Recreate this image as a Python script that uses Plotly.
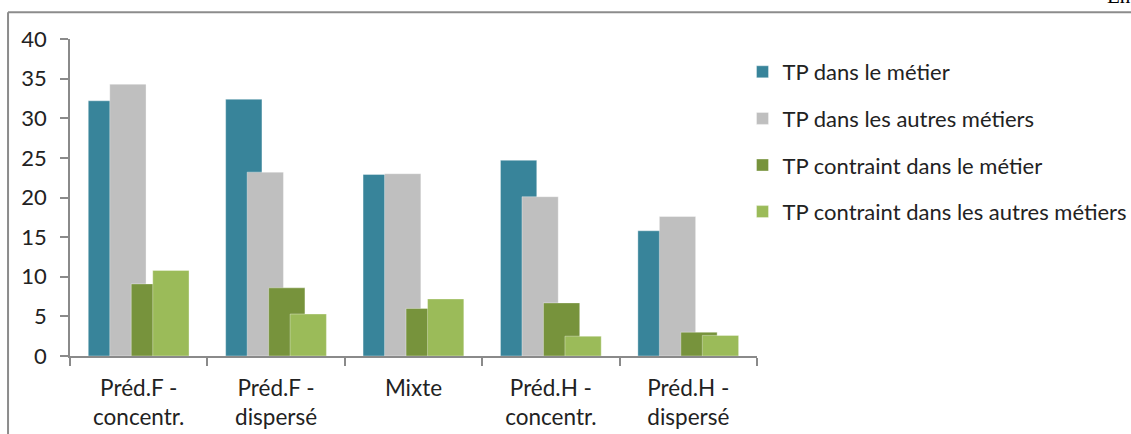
import plotly.graph_objects as go

# Categories and series (part-time rates, %)
categories = ["Préd.F -<br>concentr.", "Préd.F -<br>dispersé", "Mixte",
              "Préd.H -<br>concentr.", "Préd.H -<br>dispersé"]
series_names = ["TP dans le métier", "TP dans les autres métiers",
                "TP contraint dans le métier", "TP contraint dans les autres métiers"]
tp_metier = [32.2, 32.4, 22.9, 24.7, 15.8]
tp_autres = [34.3, 23.2, 23.0, 20.1, 17.6]
tpc_metier = [9.1, 8.6, 6.0, 6.7, 3.0]
tpc_autres = [10.8, 5.3, 7.2, 2.5, 2.6]
series_values = [tp_metier, tp_autres, tpc_metier, tpc_autres]
colors = ["#38849A", "#BFBFBF", "#77933C", "#9BBB59"]
y_ticks = [0, 5, 10, 15, 20, 25, 30, 35, 40]

FONT = "Lato, 'Open Sans', sans-serif"
AXIS_GREY = "#8a8a8a"
TEXT = "#222222"

# Overlapping clustered bars: each series shifted by a fraction of the bar width
bar_w = 0.264
step = 0.1564
first_off = -0.367

fig = go.Figure()
for i, (name, vals, col) in enumerate(zip(series_names, series_values, colors)):
    fig.add_trace(go.Bar(
        x=categories, y=vals, name=name,
        width=bar_w, offset=first_off + i * step,
        marker=dict(color=col, line=dict(color="rgba(255,255,255,0.35)", width=1)),
        legendgroup=f"g{i}",
    ))

# Outer frame (left and top edges of the chart box)
fig.add_shape(type="line", xref="paper", yref="paper",
              x0=-0.0902, x1=-0.0902, y0=1.0846, y1=-0.4,
              line=dict(color="#8c8c8c", width=2))
fig.add_shape(type="line", xref="paper", yref="paper",
              x0=-0.0902, x1=1.6, y0=1.0846, y1=1.0846,
              line=dict(color="#8c8c8c", width=2))

# Page text running above the frame
fig.add_annotation(text="En", xref="paper", yref="paper",
                   x=(1106 - 70) / 687.5, y=(356 - 10) / 316.7,
                   xanchor="left", yanchor="bottom", showarrow=False,
                   font=dict(family="Liberation Serif, serif", size=21, color="#000"))

fig.update_layout(
    width=1131, height=434,
    margin=dict(l=70, r=373.5, t=39.3, b=78.0, autoexpand=False),
    barmode="overlay",
    paper_bgcolor="white", plot_bgcolor="white",
    font=dict(family=FONT, color=TEXT),
    legend=dict(
        x=(743 - 70) / 687.5, xanchor="left",
        y=1.0 - 12 / 316.7, yanchor="top",
        font=dict(family=FONT, size=22, color=TEXT),
        tracegroupgap=15,
        bgcolor="rgba(0,0,0,0)",
    ),
    showlegend=True,
)

fig.update_xaxes(
    type="category", range=[-0.5, 4.5],
    showline=True, linecolor=AXIS_GREY, linewidth=1.5,
    ticks="outside", tickson="boundaries", ticklen=8, tickcolor=AXIS_GREY, tickwidth=1.5,
    ticklabelstandoff=11,
    showgrid=False, tickfont=dict(family=FONT, size=22.5, color=TEXT),
)
fig.update_yaxes(
    range=[0, 40], tickvals=y_ticks,
    showline=True, linecolor=AXIS_GREY, linewidth=1.5,
    ticks="outside", ticklen=8, tickcolor=AXIS_GREY, tickwidth=1.5,
    ticklabelstandoff=9,
    showgrid=False, zeroline=False,
    tickfont=dict(family=FONT, size=22, color=TEXT),
)

fig.write_html("out.html")
